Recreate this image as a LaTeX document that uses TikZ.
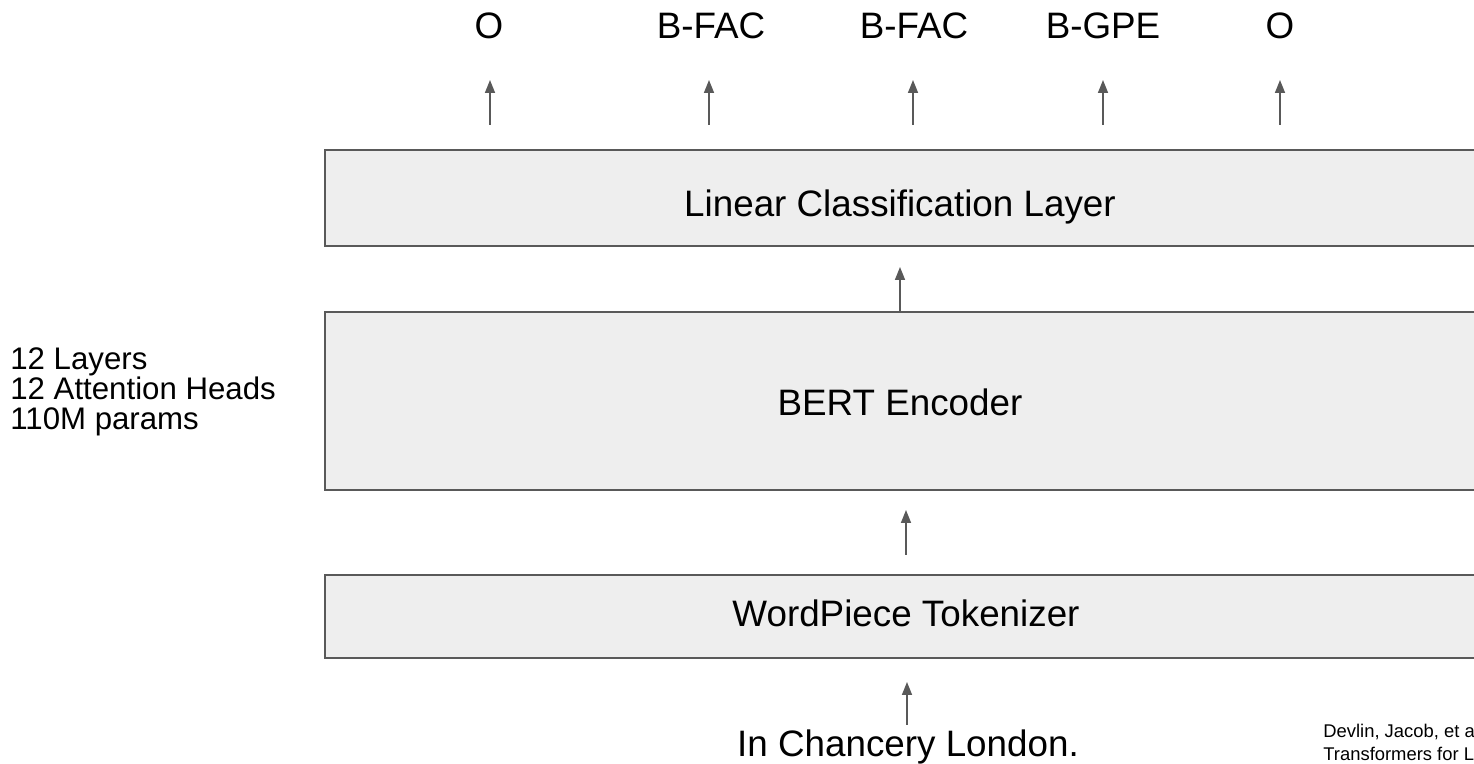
\documentclass[tikz,border=0pt]{standalone}
\usepackage{fontspec}
\setmainfont{Liberation Sans}
\usetikzlibrary{arrows.meta}
\definecolor{boxfill}{HTML}{EEEEEE}
\definecolor{edge}{HTML}{595959}
\begin{document}
\begin{tikzpicture}[x=0.5pt,y=-0.5pt,
  box/.style={draw=edge, fill=boxfill, line width=1pt, rectangle, anchor=north west,
    outer sep=0pt, inner sep=0pt, minimum width=590pt},
  big/.style={font=\fontsize{18.4}{22}\selectfont, inner sep=0pt, text=black},
  mid/.style={font=\fontsize{15.6}{15}\selectfont, inner sep=0pt, text=black},
  tiny/.style={font=\fontsize{9.2}{11.5}\selectfont, inner sep=0pt, text=black},
  arr/.style={draw=edge, line width=0.8pt, -{Triangle[length=6.5pt,width=5pt]}}]
\useasboundingbox (0,0) rectangle (1474,764);
\clip (0,0) rectangle (1474,764);
% boxes
\node[box, minimum height=48pt] (lin) at (325,150) {};
\node[box, minimum height=89pt] (bert) at (325,312) {};
\node[box, minimum height=41.5pt] (wp) at (325,575) {};
% box texts
\node[big, anchor=base] (lint) at (900,217) {Linear Classification Layer};
\node[big, anchor=base] (bertt) at (900,416) {BERT Encoder};
\node[big, anchor=base] (wpt) at (906,627) {WordPiece Tokenizer};
% output labels
\node[big, anchor=base] (o1) at (489,39) {O};
\node[big, anchor=base] (o2) at (711,39) {B-FAC};
\node[big, anchor=base] (o3) at (914,39) {B-FAC};
\node[big, anchor=base] (o4) at (1103,39) {B-GPE};
\node[big, anchor=base] (o5) at (1280,39) {O};
% input
\node[big, anchor=base] (inp) at (908,756) {In Chancery London.};
% side info
\node[mid, anchor=north west, align=left] (info) at (10,347) {12 Layers\\12 Attention Heads\\110M params};
% citation (cut off at the right edge, as in the reference)
\node[tiny, anchor=base west] (cit1) at (1323,738) {Devlin, Jacob, et al.};
\node[tiny, anchor=base west] (cit2) at (1323,761) {Transformers for Language Understanding.};
% arrows to output labels
\foreach \n/\x in {1/490,2/709,3/913,4/1103,5/1280}{
  \coordinate (s\n) at (\x,125);
  \coordinate (e\n) at (\x,80);
  \draw[arr] (s\n) -- (e\n);
}
% arrow bert -> linear
\coordinate (t1) at (900,267);
\draw[arr] (bert.north -| t1) -- (t1);
% arrow tokenizer -> bert
\coordinate (f2) at (906,555);
\coordinate (t2) at (906,510);
\draw[arr] (f2) -- (t2);
% arrow input -> tokenizer
\coordinate (f3) at (907,725);
\coordinate (t3) at (907,682);
\draw[arr] (f3) -- (t3);
\end{tikzpicture}
\end{document}
